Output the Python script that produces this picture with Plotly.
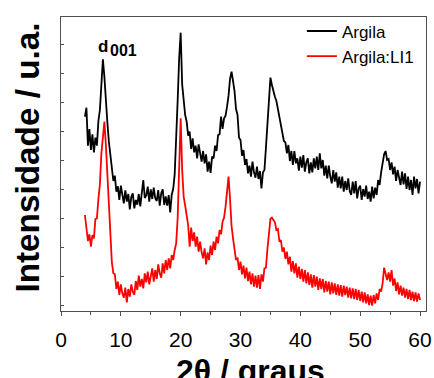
import numpy as np
import plotly.graph_objects as go

# 2-theta sampling grid (degrees)
two_theta_start = 4.0
two_theta_step = 0.25
two_theta_end = 60.0

# Intensity (a.u.) - Argila
argila = [
    565, 592, 478, 528,
    465, 512, 458, 502,
    478, 552, 585, 678,
    737, 685, 600, 548,
    490, 446, 418, 372,
    388, 340, 356, 315,
    358, 326, 305, 344,
    310, 333, 287, 325,
    335, 290, 315, 301,
    333, 296, 335, 375,
    321, 329, 355, 310,
    347, 318, 352, 320,
    312, 345, 298, 335,
    347, 300, 326, 298,
    330, 278, 330, 348,
    392, 485, 615, 742,
    817, 662, 612, 570,
    550, 508, 520, 468,
    500, 458, 478, 440,
    482, 448, 430, 462,
    425, 452, 400, 430,
    396, 445, 440, 478,
    462, 510, 512, 565,
    528, 560, 568, 595,
    628, 678, 700, 672,
    642, 588, 570, 502,
    495, 448, 465, 420,
    438, 395, 418, 385,
    430, 398, 382, 415,
    378, 402, 350, 398,
    405, 472, 542, 640,
    682, 660, 640, 625,
    612, 588, 570, 540,
    525, 492, 488, 455,
    480, 432, 462, 420,
    462, 425, 440, 403,
    445, 412, 450, 400,
    428, 440, 395, 428,
    398, 440, 410, 445,
    405, 455, 410, 435,
    388, 418, 380, 418,
    386, 365, 405, 370,
    398, 352, 385, 350,
    385, 340, 372, 345,
    380, 342, 330, 370,
    335, 372, 320, 350,
    358, 315, 348, 325,
    358, 318, 340, 310,
    355, 320, 352, 330,
    375, 360, 398, 420,
    452, 462, 435, 438,
    405, 428, 392, 415,
    372, 405, 378, 360,
    400, 362, 395, 348,
    385, 345, 375, 330,
    385, 350, 378, 335,
    370,
]

# Intensity (a.u.) - Argila:LI1
argila_li1 = [
    270, 225, 192, 212,
    175, 210, 200, 258,
    260, 318, 362, 455,
    512, 550, 480, 392,
    292, 180, 128, 95,
    92, 48, 70, 30,
    62, 35, 22, 52,
    8, 48, 25, 62,
    40, 30, 72, 45,
    88, 55, 78, 50,
    95, 68, 100, 62,
    92, 110, 70, 105,
    78, 122, 95, 82,
    125, 95, 135, 105,
    140, 110, 150, 135,
    165, 185, 262, 460,
    560, 405, 325, 298,
    270, 240, 175, 232,
    192, 218, 175, 205,
    160, 190, 158, 140,
    170, 122, 158, 135,
    178, 150, 190, 165,
    205, 185, 225, 212,
    250, 262, 295, 342,
    385, 318, 238, 200,
    170, 135, 142, 105,
    130, 92, 118, 80,
    112, 72, 100, 62,
    95, 55, 88, 52,
    90, 48, 92, 70,
    110, 112, 168, 220,
    258, 262, 255, 248,
    225, 228, 190, 195,
    160, 172, 138, 160,
    122, 145, 100, 132,
    95, 125, 82, 115,
    78, 108, 70, 105,
    65, 98, 60, 92,
    52, 90, 55, 85,
    45, 80, 48, 78,
    38, 72, 40, 70,
    32, 68, 35, 65,
    30, 62, 28, 60,
    25, 58, 30, 55,
    22, 52, 20, 50,
    18, 48, 15, 45,
    12, 40, 8, 38,
    5, 32, 0, 28,
    -2, 30, 5, 35,
    15, 48, 40, 65,
    112, 90, 75, 98,
    70, 105, 58, 80,
    42, 68, 32, 58,
    28, 52, 22, 48,
    18, 45, 15, 40,
    12, 38, 10, 35,
    15,
]

series_names = ["Argila", "Argila:LI1"]
series_colors = ["#000000", "#ff0000"]
x_ticks = [0, 10, 20, 30, 40, 50, 60]
x_title = "2θ / graus"
y_title = "Intensidade / u.a."

two_theta = np.arange(two_theta_start, two_theta_end + two_theta_step / 2, two_theta_step)

FONT = "Liberation Sans, Arial, sans-serif"
AXIS_COLOR = "#505050"

fig = go.Figure()
for name, col, ys in zip(series_names, series_colors, [argila, argila_li1]):
    fig.add_trace(go.Scatter(
        x=two_theta[:len(ys)], y=ys, mode="lines", name=name,
        line=dict(color=col, width=1.8),
    ))

fig.update_layout(
    width=434, height=378,
    margin=dict(l=61, r=8, t=17, b=67, autoexpand=False),
    paper_bgcolor="white", plot_bgcolor="white",
    font=dict(family=FONT, color="black"),
    showlegend=True,
    legend=dict(
        x=0.66, y=1.012, xanchor="left", yanchor="top",
        bgcolor="rgba(0,0,0,0)", borderwidth=0,
        font=dict(size=17, family=FONT, color="black"),
        itemwidth=30, tracegroupgap=0,
    ),
    xaxis=dict(
        range=[0, 61], tickmode="array", tickvals=x_ticks,
        ticktext=[str(v) for v in x_ticks],
        ticks="outside", ticklen=4, tickwidth=1, tickcolor=AXIS_COLOR,
        minor=dict(dtick=5, tick0=0, ticks="outside", ticklen=3, tickcolor=AXIS_COLOR, showgrid=False),
        showline=True, linecolor=AXIS_COLOR, linewidth=1.2, mirror=True,
        showgrid=False, zeroline=False, automargin=False,
        ticklabelstandoff=6,
        tickfont=dict(size=21, family=FONT, color="black"),
    ),
    yaxis=dict(
        range=[-18, 864], tick0=0, dtick=86.7,
        ticks="inside", ticklen=3, tickwidth=1, tickcolor=AXIS_COLOR,
        showticklabels=False,
        showline=True, linecolor=AXIS_COLOR, linewidth=1.2, mirror=True,
        showgrid=False, zeroline=False, automargin=False,
    ),
)

# axis titles
fig.add_annotation(x=0.518, y=-0.135, xref="paper", yref="paper", text="<b>" + x_title + "</b>",
                   showarrow=False, xanchor="center", yanchor="top",
                   font=dict(size=32, family=FONT, color="black"))
fig.add_annotation(x=-0.093, y=0.522, xref="paper", yref="paper", text="<b>" + y_title + "</b>",
                   showarrow=False, xanchor="center", yanchor="middle", textangle=-90,
                   font=dict(size=33.3, family=FONT, color="black"))

# peak label
fig.add_annotation(x=7.02, y=777, xref="x", yref="y", text="<b>d</b>", showarrow=False,
                   font=dict(size=17, family=FONT, color="black"), xanchor="center", yanchor="middle")
fig.add_annotation(x=10.45, y=763, xref="x", yref="y", text="<b>001</b>", showarrow=False,
                   font=dict(size=16, family=FONT, color="black"), xanchor="center", yanchor="middle")

fig.write_html("out.html")
